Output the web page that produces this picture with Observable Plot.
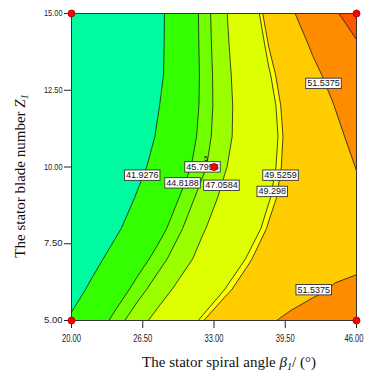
<!DOCTYPE html>
<html>
<head>
<meta charset="utf-8">
<script src="https://cdn.jsdelivr.net/npm/d3@7"></script>
<script src="https://cdn.jsdelivr.net/npm/@observablehq/plot@0.6"></script>
<style>
  body { margin: 0; background: #fff; }
  #chart svg { display: block; }
</style>
</head>
<body>
<div id="chart"></div>
<script>
// Grid axes (spiral angle β1 in degrees, blade number Z1)
const spiralAngles = [20, 22, 24, 26, 28, 30, 32, 34, 36, 38, 40, 42, 44, 46];
const bladeNumbers = [5, 6, 7, 8, 9, 10, 11, 12, 13, 14, 15];

// Response values, one row per blade number (5 → 15)
const row5  = [42.27, 43.77, 45.25, 46.52, 47.59, 48.57, 49.50, 50.22, 50.85, 51.39, 51.80, 52.06, 52.18, 52.15];
const row6  = [41.01, 42.47, 43.98, 45.32, 46.47, 47.50, 48.41, 49.32, 50.00, 50.54, 50.99, 51.35, 51.61, 51.66];
const row7  = [39.96, 41.32, 42.71, 44.15, 45.39, 46.52, 47.55, 48.46, 49.36, 50.08, 50.62, 51.02, 51.28, 51.41];
const row8  = [38.61, 40.11, 41.55, 42.94, 44.35, 45.71, 46.94, 47.85, 48.72, 49.62, 50.29, 50.79, 51.13, 51.32];
const row9  = [37.32, 39.02, 40.62, 42.11, 43.53, 44.95, 46.32, 47.43, 48.33, 49.23, 50.07, 50.67, 51.10, 51.38];
const row10 = [36.20, 38.00, 39.70, 41.30, 42.76, 44.18, 45.58, 46.96, 47.99, 48.99, 49.93, 50.62, 51.17, 51.56];
const row11 = [34.90, 36.90, 38.80, 40.60, 42.25, 43.76, 45.26, 46.68, 47.83, 48.88, 49.88, 50.64, 51.28, 51.85];
const row12 = [33.86, 36.02, 38.08, 40.04, 41.90, 43.51, 45.12, 46.63, 47.84, 48.96, 50.00, 50.83, 51.55, 52.30];
const row13 = [33.38, 35.58, 37.68, 39.68, 41.58, 43.35, 45.11, 46.69, 47.98, 49.21, 50.23, 51.16, 52.07, 52.95];
const row14 = [33.32, 35.52, 37.62, 39.62, 41.52, 43.34, 45.17, 46.80, 48.19, 49.56, 50.68, 51.76, 52.68, 53.60];
const row15 = [33.10, 35.34, 37.48, 39.52, 41.48, 43.34, 45.21, 46.90, 48.45, 49.94, 51.31, 52.45, 53.55, 54.57];

// Contour levels and band colours (lowest band first)
const contourLevels = [30, 41.9276, 44.8188, 45.7958, 47.0584, 49.298, 49.5259, 51.5375, 53.75];
const bandColors = ["#00FAA0", "#33FF00", "#70FF00", "#9CFF00", "#DDFF00", "#FFFF00", "#FFCC00", "#FF8C00", "#FF5500"];

// Contour labels (text and where they sit)
const labelText = ["41.9276", "44.8188", "45.7958", "47.0584", "49.5259", "49.298", "51.5375", "51.5375"];
const labelAngle = [26.45, 30.13, 31.95, 33.68, 39.07, 38.31, 42.99, 42.10];
const labelBlade = [9.73, 9.48, 10.0, 9.40, 9.73, 9.20, 12.72, 6.00];

// Design points
const designAngle = [20, 20, 46, 46, 33];
const designBlade = [5, 15, 5, 15, 10];
const centerReplicates = "5";

// Axis ticks
const xTicks = [20, 26.5, 33, 39.5, 46];
const yTicks = [5, 7.5, 10, 12.5, 15];

// ---- build tables for the library ----
const grid = [row5, row6, row7, row8, row9, row10, row11, row12, row13, row14, row15].flat();
const labels = labelText.map((t, i) => ({a: labelAngle[i], b: labelBlade[i], text: t}));
const points = designAngle.map((a, i) => ({a, b: designBlade[i]}));
const stepA = spiralAngles[1] - spiralAngles[0];
const stepB = bladeNumbers[1] - bladeNumbers[0];

const sans = "'Liberation Sans', Arial, sans-serif";

const plot = Plot.plot({
  width: 365,
  height: 377,
  marginLeft: 71,
  marginRight: 9,
  marginTop: 13,
  marginBottom: 57,
  style: {fontFamily: sans, fontSize: "9px", color: "#222", background: "#fff"},
  x: {domain: [spiralAngles[0], spiralAngles[spiralAngles.length - 1]], ticks: xTicks, tickFormat: d => d.toFixed(2), tickSize: 8, tickPadding: 6, label: null},
  y: {domain: [bladeNumbers[0], bladeNumbers[bladeNumbers.length - 1]], ticks: yTicks, tickFormat: d => d.toFixed(2), tickSize: 7, tickPadding: 2, label: null},
  color: {type: "ordinal", domain: contourLevels, range: bandColors},
  marks: [
    Plot.contour(grid, {
      width: spiralAngles.length,
      height: bladeNumbers.length,
      x1: spiralAngles[0] - stepA / 2,
      x2: spiralAngles[spiralAngles.length - 1] + stepA / 2,
      y1: bladeNumbers[0] - stepB / 2,
      y2: bladeNumbers[bladeNumbers.length - 1] + stepB / 2,
      value: d => d,
      fill: "value",
      thresholds: contourLevels,
      stroke: "#1a1a1a",
      strokeWidth: 0.8,
      clip: true
    }),
    Plot.frame({stroke: "#333", strokeWidth: 1}),
    Plot.text(labels, {x: "a", y: "b", text: "text", fill: "#111", fontSize: 9, fontFamily: sans}),
    Plot.text([points[4]], {x: "a", y: "b", text: () => centerReplicates, dx: -8, dy: -8, fontSize: 7, fill: "#111", fontFamily: sans}),
    Plot.dot(points, {x: "a", y: "b", r: 3.5, fill: "#FF0000", stroke: "#A00000", strokeWidth: 0.8})
  ]
});

document.getElementById("chart").appendChild(plot);

// condensed look for the tick labels (same text, narrower glyphs)
const tickTexts = new Set([...xTicks, ...yTicks].map(d => d.toFixed(2)));
const labelSet = new Set(labelText);
const svgTop = plot.getBoundingClientRect().top;
plot.querySelectorAll("text").forEach(t => {
  if (!tickTexts.has(t.textContent)) return;
  const isX = t.getBoundingClientRect().top - svgTop > 322;
  t.style.fontSize = isX ? "10px" : "8.5px";
  t.setAttribute("textLength", isX ? 19 : 18.5);
  t.setAttribute("lengthAdjust", "spacingAndGlyphs");
  if (isX && t.textContent === xTicks[xTicks.length - 1].toFixed(2)) {
    t.setAttribute("dx", -2.5);
  }
});

// white boxes behind contour labels
plot.querySelectorAll("text").forEach(t => {
  if (!labelSet.has(t.textContent)) return;
  const bb = t.getBBox();
  const r = document.createElementNS("http://www.w3.org/2000/svg", "rect");
  r.setAttribute("x", bb.x - 1.5);
  r.setAttribute("y", bb.y - 0.2);
  r.setAttribute("width", bb.width + 3);
  r.setAttribute("height", bb.height + 0.4);
  r.setAttribute("fill", "#fff");
  r.setAttribute("stroke", "#333");
  r.setAttribute("stroke-width", "0.9");
  const tr = t.getAttribute("transform");
  if (tr) r.setAttribute("transform", tr);
  t.parentNode.insertBefore(r, t);
});

// axis titles with italic symbols and subscripts
const svg = d3.select(plot);
const serif = "'Liberation Serif', 'Times New Roman', serif";
const yt = svg.append("text")
  .attr("transform", "translate(24.5,176) rotate(-90)")
  .attr("text-anchor", "middle")
  .attr("fill", "#111")
  .style("font-family", serif).style("font-size", "15px");
yt.append("tspan").text("The stator blade number ");
yt.append("tspan").style("font-style", "italic").text("Z");
yt.append("tspan").style("font-style", "italic").style("font-size", "10px").attr("dy", 3).text("1");

const xt = svg.append("text")
  .attr("x", 229).attr("y", 367)
  .attr("text-anchor", "middle")
  .attr("fill", "#111")
  .style("font-family", serif).style("font-size", "15px");
xt.append("tspan").text("The stator spiral angle ");
xt.append("tspan").style("font-style", "italic").text("β");
xt.append("tspan").style("font-style", "italic").style("font-size", "10px").attr("dy", 3).text("1");
xt.append("tspan").attr("dy", -3).text("/ (°)");
</script>
</body>
</html>
